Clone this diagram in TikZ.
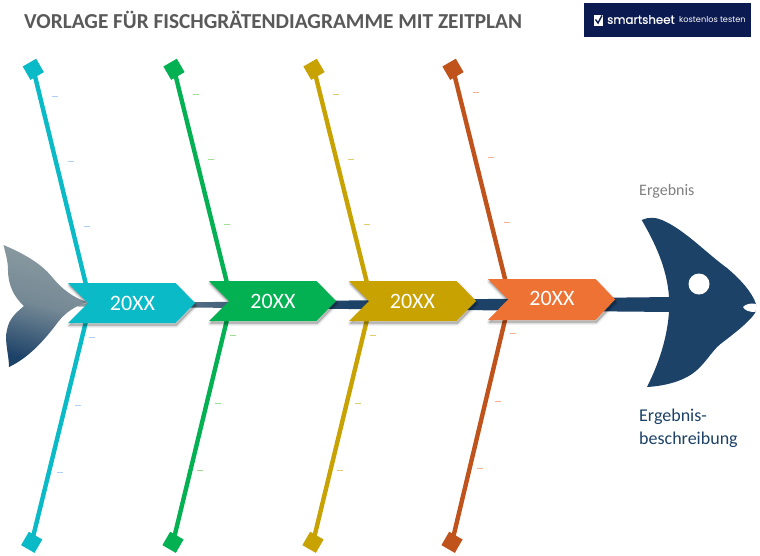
\documentclass[tikz,border=0pt]{standalone}
\usepackage{fontspec}
\setmainfont{Carlito}
\newfontfamily\logofont[FakeBold=0.6]{Poppins}
\newfontfamily\logofontb{Poppins}
\usetikzlibrary{calc}
\definecolor{cteal}{HTML}{0ABAC6}
\definecolor{cgreen}{HTML}{03B153}
\definecolor{cyellow}{HTML}{C8A200}
\definecolor{corange}{HTML}{ED7233}
\definecolor{cbrown}{HTML}{C0531C}
\definecolor{cnavy}{HTML}{1D4268}
\definecolor{cgrey}{HTML}{8B9BA1}
\definecolor{clogo}{HTML}{0B1A50}
\tikzset{
  bone/.style={line width=4.4pt},
  endbox/.style={rectangle,minimum size=15.5pt,inner sep=0pt,rotate=#1},
  softshadow/.style={black,opacity=.05,line join=round,xshift=1pt,yshift=-2.5pt},
  yearlabel/.style={text=white,font=\fontsize{22}{22}\selectfont,inner sep=0pt},
  tick/.style={line width=.7pt,opacity=.55},
}
\newcommand{\chevronat}[4]{% notch-left x, top y, bottom y, colour
  \def\cx{#1}\def\ct{#2}\def\cb{#3}
  \foreach \w in {4.5,3,1.5,0.3}{
    \filldraw[softshadow,line width=\w pt] (\cx,\ct) -- ++(107.5,0) -- (\cx+127,{(\ct+\cb)/2}) -- (\cx+107.5,\cb) -- (\cx,\cb) -- (\cx+20,{(\ct+\cb)/2}) -- cycle;
  }
  \fill[#4] (\cx,\ct) -- ++(107.5,0) -- (\cx+127,{(\ct+\cb)/2}) -- (\cx+107.5,\cb) -- (\cx,\cb) -- (\cx+20,{(\ct+\cb)/2}) -- cycle;
}
\begin{document}
\begin{tikzpicture}[x=1pt,y=-1pt]
\useasboundingbox (0,0) rectangle (760,555);
\fill[white] (0,0) rectangle (760,555);
% title
\node[anchor=west,inner sep=0pt,text=black!65,font=\bfseries\fontsize{21.3}{22}\selectfont] (title) at (24,20) {VORLAGE FÜR FISCHGRÄTENDIAGRAMME MIT ZEITPLAN};
% logo
\fill[clogo] (584,3) rectangle (751,37);
\fill[white] (593.5,15) rectangle (603,25.5);
\draw[clogo,line width=1.4pt] (595.5,19.5) -- (598,23) -- (602,15.5);
\node[anchor=west,inner sep=0pt,text=white,font=\logofont\fontsize{11.8}{12}\selectfont] (logoa) at (607,19.5) {smartsheet};
\node[anchor=west,inner sep=0pt,text=white,font=\logofontb\fontsize{8.2}{9}\selectfont] (logob) at (679,20) {kostenlos testen};
% end squares
\node[endbox=30,fill=cteal] (t1) at (33.3,69.3) {};
\node[endbox=30,fill=cgreen] (t2) at (174,69.3) {};
\node[endbox=30,fill=cyellow] (t3) at (314,69.3) {};
\node[endbox=30,fill=cbrown] (t4) at (453,69.3) {};
\node[endbox=-30,fill=cteal] (b1) at (31.7,542.3) {};
\node[endbox=-30,fill=cgreen] (b2) at (173,542.3) {};
\node[endbox=-30,fill=cyellow] (b3) at (313,542.3) {};
\node[endbox=-30,fill=cbrown] (b4) at (452,542.3) {};
\coordinate (j1) at (90.5,303);
\coordinate (j2) at (231.5,301);
\coordinate (j3) at (371.5,301);
\coordinate (j4) at (510,299);
% bones
\draw[bone,cteal] (t1.center) -- (j1) -- (b1.center);
\draw[bone,cgreen] (t2.center) -- (j2) -- (b2.center);
\draw[bone,cyellow] (t3.center) -- (j3) -- (b3.center);
\draw[bone,cbrown] (t4.center) -- (j4) -- (b4.center);
% ticks
\foreach \x/\y in {52/96,68/161,84/226,89/337,75/405,57/472}
  \draw[tick,cteal!60!blue!60] (\x,\y) -- ++(6,0);
\foreach \x/\y in {193/94,208/159,224/224,230/335,215/403,197/470}
  \draw[tick,cgreen!70!yellow] (\x,\y) -- ++(6,0);
\foreach \x/\y in {333/94,348/159,364/224,370/335,355/403,337/470}
  \draw[tick,cyellow] (\x,\y) -- ++(6,0);
\foreach \x/\y in {473/92,488/157,504/222,510/333,495/401,477/468}
  \draw[tick,corange] (\x,\y) -- ++(6,0);
% spine
\fill[cnavy] (349,300.5) -- (672,297) -- (672,312) -- (349,309) -- cycle;
\shade[left color=cgrey,right color=cnavy,middle color=cnavy!60!cgrey]
  (78,303.5) -- (350,300.5) -- (350,309) -- (78,306.5) -- cycle;
% tail
\shade[top color=cgrey,bottom color=cnavy,middle color=cgrey!80!cnavy,shading angle=-15]
  (3.5,245) .. controls (20,252) and (40,262) .. (52,277)
  .. controls (62,289) and (72,297) .. (87,302)
  .. controls (74,307) and (66,312) .. (58,322)
  .. controls (44,341) and (28,358) .. (9,367)
  .. controls (9,355) and (4,340) .. (7,330)
  .. controls (9,318) and (17,312) .. (24,306)
  .. controls (14,297) and (8,285) .. (8,270)
  .. controls (8,260) and (5,252) .. (3.5,245) -- cycle;
% chevrons
\chevronat{68}{283}{323}{cteal}
\chevronat{209}{281}{321}{cgreen}
\chevronat{349}{281}{321}{cyellow}
\chevronat{488}{279}{320}{corange}
\node[yearlabel] (y1) at (132.5,303) {20XX};
\node[yearlabel] (y2) at (273,301) {20XX};
\node[yearlabel] (y3) at (412.5,301) {20XX};
\node[yearlabel] (y4) at (552,298.5) {20XX};
% head
\fill[cnavy]
  (641.7,220) .. controls (648,217) and (655,217) .. (662,220)
  .. controls (685,230) and (705,252) .. (727,268)
  .. controls (740,279) and (752,292) .. (756,304)
  .. controls (756,310) and (756,312) .. (755,313)
  .. controls (750,321) and (735,333) .. (723,342)
  .. controls (713,349) and (708,360) .. (697,370)
  .. controls (685,381) and (665,386) .. (647,387)
  .. controls (658,365) and (667,340) .. (669,312)
  -- (669,297)
  .. controls (667,268) and (655,243) .. (641.7,220) -- cycle;
\fill[white] (699,284) circle (10.5);
\fill[white] (743,307) .. controls (746,303.5) and (752,303) .. (756.5,304)
  .. controls (756.5,306) and (756,309) .. (755.5,312)
  .. controls (750,312) and (745,311) .. (743,307) -- cycle;
% labels
\node[anchor=west,inner sep=0pt,text=black!50,font=\fontsize{16}{16}\selectfont] (res) at (639,191) {Ergebnis};
\node[anchor=north west,inner sep=0pt,align=left,text=cnavy,font=\fontsize{18}{23}\selectfont] (desc) at (639,408.5) {Ergebnis-\\beschreibung};
\end{tikzpicture}
\end{document}
